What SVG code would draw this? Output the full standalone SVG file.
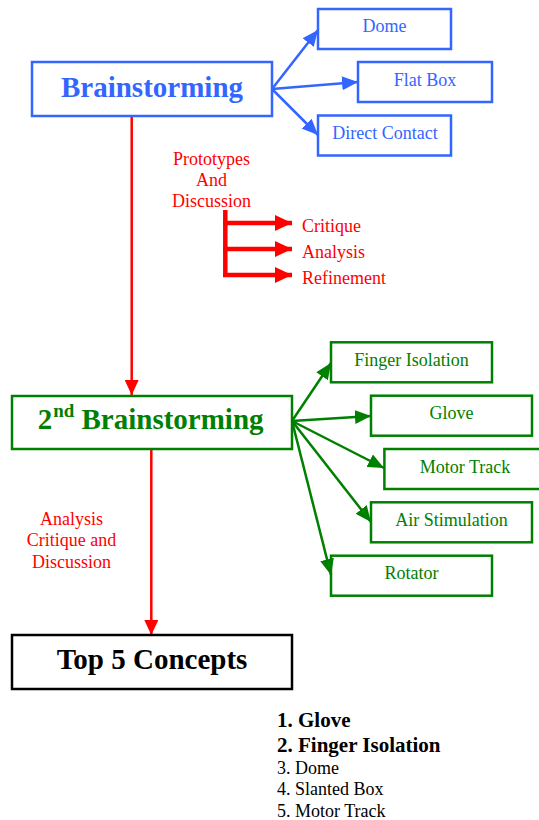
<svg xmlns="http://www.w3.org/2000/svg" width="539" height="820" viewBox="0 0 539 820">
<defs>
<style>
text{font-family:"Liberation Serif","Times New Roman",serif}
.b{fill:none;stroke:#3366FF;stroke-width:2.5}
.g{fill:none;stroke:#008000;stroke-width:2.5}
.k{fill:none;stroke:#000;stroke-width:2.5}
.bt{fill:#3366FF;font-size:18px;text-anchor:middle}
.gt{fill:#008000;font-size:18px;text-anchor:middle}
.rt{fill:#FF0000;font-size:18px}
.bl{stroke:#3366FF;stroke-width:2.5;fill:none}
.gl{stroke:#008000;stroke-width:2.5;fill:none}
.rl{stroke:#FF0000;stroke-width:2.5;fill:none}
.rk{stroke:#FF0000;stroke-width:4.5;fill:none}
</style>
<marker id="ab" markerUnits="userSpaceOnUse" markerWidth="16" markerHeight="14" refX="16" refY="7" orient="auto"><path d="M0,0L16,7L0,14z" fill="#3366FF"/></marker>
<marker id="ag" markerUnits="userSpaceOnUse" markerWidth="16" markerHeight="14" refX="16" refY="7" orient="auto"><path d="M0,0L16,7L0,14z" fill="#008000"/></marker>
<marker id="ar" markerUnits="userSpaceOnUse" markerWidth="15" markerHeight="14" refX="15" refY="7" orient="auto"><path d="M0,0L15,7L0,14z" fill="#FF0000"/></marker>
<marker id="ark" markerUnits="userSpaceOnUse" markerWidth="17" markerHeight="16" refX="17" refY="8" orient="auto"><path d="M0,0L17,8L0,16z" fill="#FF0000"/></marker>
</defs>
<rect width="539" height="820" fill="#fff"/>
<g id="connectors">
<line class="bl" x1="272" y1="89" x2="318" y2="30" marker-end="url(#ab)"/>
<line class="bl" x1="272" y1="89" x2="358" y2="82" marker-end="url(#ab)"/>
<line class="bl" x1="272" y1="89" x2="318" y2="135" marker-end="url(#ab)"/>
<line class="rl" x1="131.7" y1="116" x2="131.7" y2="395" marker-end="url(#ar)"/>
<path class="rk" d="M225.3,210V276"/>
<line class="rk" x1="223" y1="223" x2="292" y2="223" marker-end="url(#ark)"/>
<line class="rk" x1="223" y1="249" x2="292" y2="249" marker-end="url(#ark)"/>
<line class="rk" x1="223" y1="275" x2="292" y2="275" marker-end="url(#ark)"/>
<line class="gl" x1="292" y1="421" x2="331" y2="363" marker-end="url(#ag)"/>
<line class="gl" x1="292" y1="421" x2="371" y2="416" marker-end="url(#ag)"/>
<line class="gl" x1="292" y1="421" x2="384" y2="468" marker-end="url(#ag)"/>
<line class="gl" x1="292" y1="421" x2="371" y2="522" marker-end="url(#ag)"/>
<line class="gl" x1="292" y1="421" x2="331" y2="575" marker-end="url(#ag)"/>
<line class="rl" x1="151.3" y1="449" x2="151.3" y2="635" marker-end="url(#ar)"/>
</g>
<g id="brainstorming">
<rect class="b" x="32" y="62" width="240" height="54"/>
<text x="152" y="97" fill="#3366FF" font-size="29" font-weight="bold" text-anchor="middle">Brainstorming</text>
</g>
<g id="dome"><rect class="b" x="318" y="9" width="133" height="40"/><text class="bt" x="384.5" y="32.3">Dome</text></g>
<g id="flatbox"><rect class="b" x="358" y="62" width="134" height="40"/><text class="bt" x="425" y="85.5">Flat Box</text></g>
<g id="directcontact"><rect class="b" x="318" y="115.5" width="133" height="40"/><text class="bt" x="385" y="138.5">Direct Contact</text></g>
<g id="prototypes">
<text class="rt" text-anchor="middle"><tspan x="211.5" y="165">Prototypes</tspan><tspan x="211.5" y="186">And</tspan><tspan x="211.5" y="207">Discussion</tspan></text>
</g>
<g id="critique"><text class="rt" x="302" y="231.7">Critique</text></g>
<g id="analysis"><text class="rt" x="302" y="258">Analysis</text></g>
<g id="refinement"><text class="rt" x="302" y="284">Refinement</text></g>
<g id="brainstorming2">
<rect class="g" x="12" y="396" width="280" height="53"/>
<text fill="#008000" font-weight="bold"><tspan x="37.8" y="429.3" font-size="29">2</tspan><tspan x="53.3" y="417" font-size="19">nd</tspan><tspan x="81.5" y="429.3" font-size="29">Brainstorming</tspan></text>
</g>
<g id="fingerisolation"><rect class="g" x="331" y="342.3" width="161" height="40"/><text class="gt" x="411.5" y="365.7">Finger Isolation</text></g>
<g id="glove"><rect class="g" x="371" y="395.7" width="161" height="40"/><text class="gt" x="451.5" y="419.3">Glove</text></g>
<g id="motortrack"><rect class="g" x="384.4" y="449" width="161" height="40"/><text class="gt" x="465" y="472.7">Motor Track</text></g>
<g id="airstimulation"><rect class="g" x="371" y="502.3" width="161" height="40"/><text class="gt" x="451.5" y="526">Air Stimulation</text></g>
<g id="rotator"><rect class="g" x="331" y="555.7" width="161" height="40"/><text class="gt" x="411.5" y="579.3">Rotator</text></g>
<g id="analysis2">
<text class="rt" text-anchor="middle"><tspan x="71.5" y="525">Analysis</tspan><tspan x="71.5" y="546">Critique and</tspan><tspan x="71.5" y="567.5">Discussion</tspan></text>
</g>
<g id="top5">
<rect class="k" x="12" y="635" width="280" height="54"/>
<text x="152" y="669.3" fill="#000" font-size="29" font-weight="bold" text-anchor="middle">Top 5 Concepts</text>
</g>
<g id="list" fill="#000">
<text x="277" y="727.3" font-size="21" font-weight="bold">1. Glove</text>
<text x="277" y="751.7" font-size="21" font-weight="bold">2. Finger Isolation</text>
<text x="277" y="774" font-size="18">3. Dome</text>
<text x="277" y="795" font-size="18">4. Slanted Box</text>
<text x="277" y="816.5" font-size="18">5. Motor Track</text>
</g>
</svg>
